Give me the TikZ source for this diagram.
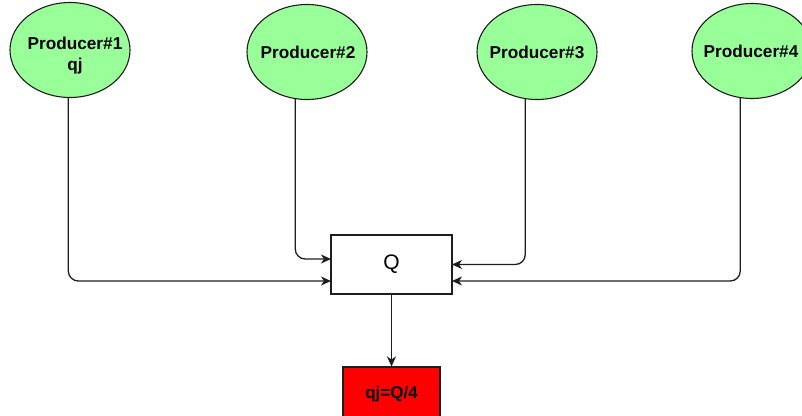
\documentclass[tikz,border=0pt]{standalone}
\usepackage{fontspec}
\setmainfont{Liberation Sans}
\usetikzlibrary{shapes.geometric,arrows.meta,calc}
\definecolor{prodgreen}{RGB}{153,255,153}
\definecolor{linegray}{RGB}{30,30,30}
\begin{document}
\begin{tikzpicture}[x=1pt,y=-1pt,
  prod/.style={ellipse,draw=linegray,line width=1.1pt,fill=prodgreen,minimum width=120pt,minimum height=95pt,inner sep=0pt},
  prodtext/.style={align=center,inner sep=0pt,font=\fontsize{17.2}{21}\selectfont\bfseries},
  qbox/.style={rectangle,draw=linegray,line width=1.1pt,fill=white,minimum width=121pt,minimum height=59pt,inner sep=0pt,font=\fontsize{21}{24}\selectfont},
  resbox/.style={rectangle,draw=linegray,line width=1.1pt,fill=red,minimum width=97pt,minimum height=54pt,inner sep=0pt,font=\fontsize{17}{20}\selectfont\bfseries},
  conn/.style={draw=linegray,line width=1.3pt,rounded corners=10pt,-{Stealth[length=10pt,width=9pt,inset=3pt]}}]
\useasboundingbox (0,0) rectangle (802,415);
\node[prod] (P1) at (70,50) {};
\node[prodtext] (P1t) at (75,56) {Producer\#1\\qj};
\node[prod] (P2) at (307,52) {};
\node[prodtext] (P2t) at (308,52) {Producer\#2};
\node[prod] (P3) at (537,52) {};
\node[prodtext] (P3t) at (537,52) {Producer\#3};
\node[prod] (P4) at (752,51) {};
\node[prodtext] (P4t) at (751,51) {Producer\#4};
\node[qbox] (Q) at (391.5,264.5) {Q};
\node[resbox] (R) at (391.5,394) {qj=Q/4};
\coordinate (qa) at (331,259);
\coordinate (qb) at (331,281);
\coordinate (qc) at (452,264.5);
\coordinate (qd) at (452,281);
\draw[conn] (P1.268) |- (qb);
\draw[conn] (P2.256) |- (qa);
\draw[conn] (P3.256) |- (qc);
\draw[conn] (P4.256) |- (qd);
\draw[conn] (Q.south) -- (R.north);
\end{tikzpicture}
\end{document}
